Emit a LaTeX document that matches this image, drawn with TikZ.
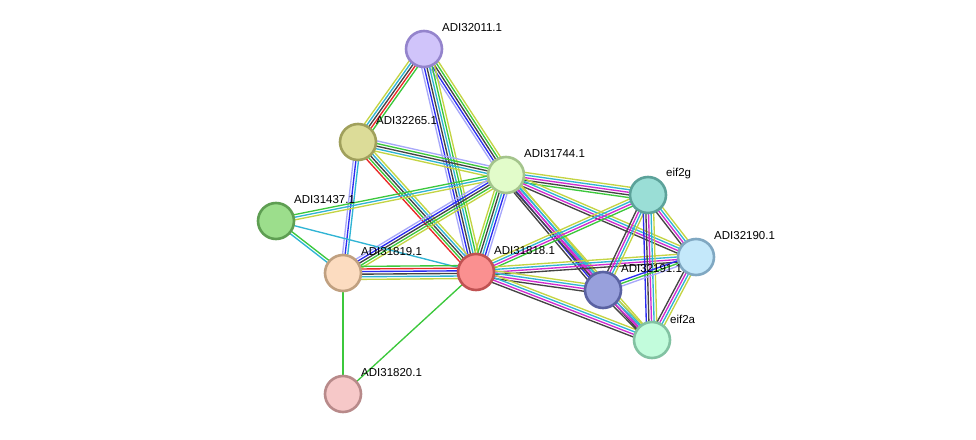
\documentclass[tikz,border=0pt]{standalone}
\usepackage{fontspec}
\setmainfont{Liberation Sans}
\definecolor{nbhood}{HTML}{3CC83C}
\definecolor{fusion}{HTML}{E82828}
\definecolor{cooccur}{HTML}{2C2CF0}
\definecolor{coexpr}{HTML}{444444}
\definecolor{expmt}{HTML}{D02CD0}
\definecolor{dbase}{HTML}{30B4D4}
\definecolor{txtmine}{HTML}{C4D444}
\definecolor{homol}{HTML}{A8A8FA}
% node fill / rim pairs
\definecolor{f32011}{HTML}{D0C4FA}\definecolor{r32011}{HTML}{9484CC}
\definecolor{f32265}{HTML}{DCDC98}\definecolor{r32265}{HTML}{A0A05C}
\definecolor{f31744}{HTML}{E2FCCA}\definecolor{r31744}{HTML}{A4C48C}
\definecolor{f31437}{HTML}{9CDE8C}\definecolor{r31437}{HTML}{5E9E52}
\definecolor{f31819}{HTML}{FCDCC0}\definecolor{r31819}{HTML}{C0A080}
\definecolor{f31818}{HTML}{FA9090}\definecolor{r31818}{HTML}{C05252}
\definecolor{feif2g}{HTML}{9ADED6}\definecolor{reif2g}{HTML}{5CA29A}
\definecolor{f32190}{HTML}{C4E8FA}\definecolor{r32190}{HTML}{80A8C2}
\definecolor{f32191}{HTML}{98A0DC}\definecolor{r32191}{HTML}{5A62A2}
\definecolor{feif2a}{HTML}{C2FCDC}\definecolor{reif2a}{HTML}{82C2A2}
\definecolor{f31820}{HTML}{F6C8C8}\definecolor{r31820}{HTML}{B88A8A}
\usetikzlibrary{calc,backgrounds}
\tikzset{
  prot/.style={circle,fill=f#1,draw=r#1,line width=2.6pt,minimum size=36pt,inner sep=0pt},
  wire/.style={line width=1.35pt},
  lbl/.style={font=\fontsize{11.5}{13}\selectfont,anchor=west,inner sep=0pt}
}
% parallel evidence lines between two proteins
\newcommand{\linkedge}[4]{%
  \foreach \c [count=\i] in {#4} {
    \pgfmathsetmacro{\off}{(\i-(#3+1)/2)*2.6}
    \draw[wire,\c] ($(#1)!\off pt!90:(#2)$) -- ($(#2)!\off pt!-90:(#1)$);
  }}

\begin{document}
\begin{tikzpicture}[x=1pt,y=-1pt]
    \useasboundingbox (0,0) rectangle (976,439);
    \node[prot=32011] (n32011) at (424,49) {};
    \node[prot=32265] (n32265) at (358,142) {};
    \node[prot=31744] (n31744) at (506,175) {};
    \node[prot=31437] (n31437) at (276,221) {};
    \node[prot=31819] (n31819) at (343,273) {};
    \node[prot=31818] (n31818) at (476,272) {};
    \node[prot=eif2g] (neif2g) at (648,195) {};
    \node[prot=32190] (n32190) at (696,257) {};
    \node[prot=32191] (n32191) at (603,290) {};
    \node[prot=eif2a] (neif2a) at (652,340) {};
    \node[prot=31820] (n31820) at (343,394) {};
    \foreach \n/\t in {n32011/ADI32011.1,n32265/ADI32265.1,n31744/ADI31744.1,
                       n31437/ADI31437.1,n31819/ADI31819.1,n31818/ADI31818.1,
                       neif2g/eif2g,n32190/ADI32190.1,n32191/ADI32191.1,
                       neif2a/eif2a,n31820/ADI31820.1}
      \node[lbl] (l\n) at ($(\n)+(18,-21)$) {\t};
    \begin{scope}[on background layer]
    \linkedge{n32011}{n32265}{5}{txtmine,dbase,coexpr,fusion,nbhood}
    \linkedge{n32011}{n31744}{5}{homol,cooccur,coexpr,nbhood,txtmine}
    \linkedge{n32011}{n31818}{6}{homol,cooccur,coexpr,dbase,nbhood,txtmine}
    \linkedge{n32265}{n31744}{5}{txtmine,dbase,coexpr,nbhood,homol}
    \linkedge{n32265}{n31818}{5}{fusion,nbhood,coexpr,dbase,txtmine}
    \linkedge{n32265}{n31819}{3}{homol,cooccur,dbase}
    \linkedge{n31744}{n31437}{3}{nbhood,dbase,txtmine}
    \linkedge{n31744}{n31819}{5}{homol,cooccur,coexpr,nbhood,txtmine}
    \linkedge{n31744}{n31818}{6}{txtmine,nbhood,coexpr,dbase,cooccur,homol}
    \linkedge{n31437}{n31819}{2}{dbase,nbhood}
    \linkedge{n31437}{n31818}{1}{dbase}
    \linkedge{n31819}{n31818}{6}{txtmine,dbase,coexpr,cooccur,fusion,nbhood}
    \linkedge{n31819}{n31820}{1}{nbhood}
    \linkedge{n31818}{n31820}{1}{nbhood}
    \linkedge{n31744}{neif2g}{5}{nbhood,coexpr,expmt,dbase,txtmine}
    \linkedge{n31744}{n32190}{4}{coexpr,expmt,dbase,txtmine}
    \linkedge{n31744}{n32191}{5}{coexpr,cooccur,expmt,dbase,txtmine}
    \linkedge{n31744}{neif2a}{4}{coexpr,expmt,dbase,txtmine}
    \linkedge{n31818}{neif2g}{4}{nbhood,expmt,dbase,txtmine}
    \linkedge{n31818}{n32190}{4}{coexpr,expmt,dbase,txtmine}
    \linkedge{n31818}{n32191}{4}{coexpr,expmt,dbase,txtmine}
    \linkedge{n31818}{neif2a}{4}{coexpr,expmt,dbase,txtmine}
    \linkedge{neif2g}{n32190}{4}{coexpr,expmt,dbase,txtmine}
    \linkedge{neif2g}{n32191}{4}{coexpr,expmt,dbase,txtmine}
    \linkedge{neif2g}{neif2a}{5}{cooccur,coexpr,expmt,dbase,txtmine}
    \linkedge{n32190}{n32191}{3}{cooccur,nbhood,homol}
    \linkedge{n32190}{neif2a}{4}{coexpr,expmt,dbase,txtmine}
    \linkedge{n32191}{neif2a}{4}{coexpr,expmt,dbase,txtmine}
    \end{scope}
  \end{tikzpicture}
\end{document}
